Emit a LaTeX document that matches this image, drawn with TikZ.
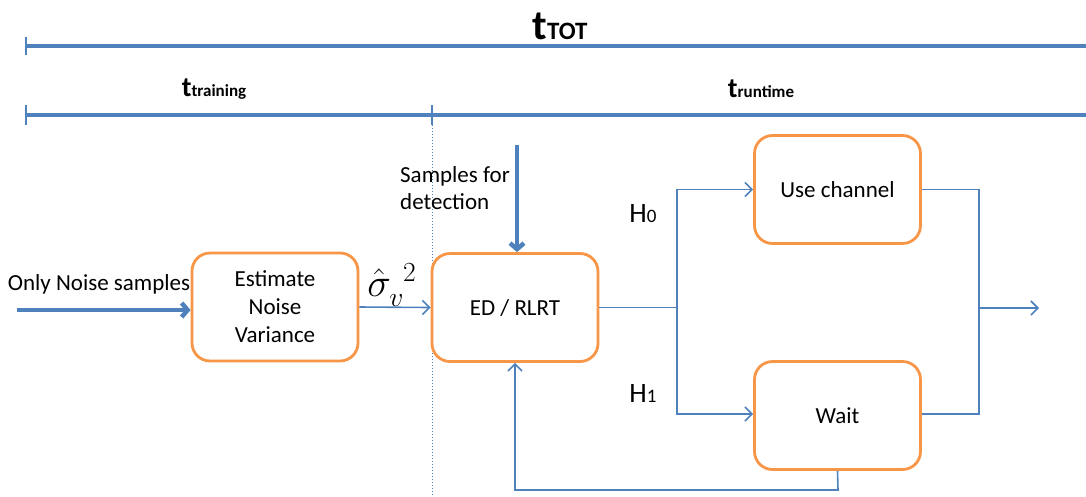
\documentclass[tikz,border=0pt]{standalone}
\usepackage{graphicx}
\usepackage{fontspec}
\setmainfont{Carlito}
\usetikzlibrary{arrows.meta}
\definecolor{lblue}{HTML}{4F81BD}
\definecolor{lorange}{HTML}{F79646}
\tikzset{
  box/.style={draw=lorange, line width=2.8pt, rounded corners=18pt, fill=white, minimum width=166pt, minimum height=108pt, align=center, font=\fontsize{23}{27}\selectfont},
  thin/.style={draw=lblue, line width=1.6pt},
  thinarr/.style={thin, -{Straight Barb[length=7pt,width=14pt,line width=1.6pt]}},
  thick/.style={draw=lblue, line width=4.5pt, -{Straight Barb[length=6pt,width=14pt,line width=4.5pt]}},
  tline/.style={draw=lblue, line width=4.5pt},
  tick/.style={draw=lblue, line width=2.2pt},
  lbl/.style={font=\fontsize{23}{27}\selectfont, inner sep=0pt}
}
\begin{document}
\begin{tikzpicture}[x=1pt,y=-1pt]
\useasboundingbox (0,0) rectangle (1086,496);
% timelines
\coordinate (a1) at (26,46); \coordinate (a2) at (1090,46);
\draw[tline] (a1) -- (a2);
\coordinate (a1t) at (26,37); \coordinate (a1b) at (26,55);
\draw[tick] (a1t) -- (a1b);
\node[inner sep=0pt] (ttot) at (560,26) {\bfseries\fontsize{42}{42}\selectfont t\fontsize{25}{25}\selectfont TOT};
\coordinate (b1) at (26,115); \coordinate (b2) at (1090,115);
\draw[tline] (b1) -- (b2);
\coordinate (b1t) at (26,105); \coordinate (b1b) at (26,125);
\draw[tick] (b1t) -- (b1b);
\coordinate (b3t) at (432,105); \coordinate (b3b) at (432,125);
\draw[tick] (b3t) -- (b3b);
\node[inner sep=0pt] (ttr) at (214,89) {\bfseries\fontsize{28}{28}\selectfont t\fontsize{17}{17}\selectfont training};
\node[inner sep=0pt] (trun) at (761,89) {\bfseries\fontsize{28}{28}\selectfont t\fontsize{17}{17}\selectfont runtime};
% dotted separator
\coordinate (d1) at (432,125); \coordinate (d2) at (432,496);
\draw[lblue, line width=1pt, dotted] (d1) -- (d2);
% boxes
\node[box] (est) at (275,307) {Estimate\\[1pt]Noise\\[1pt]Variance};
\node[box] (ed) at (515,307.5) {ED / RLRT};
\node[box] (use) at (837.5,189.5) {Use channel};
\node[box] (wait) at (837.5,415.5) {Wait};
% inputs
\node[lbl] (onl) at (99,284) {Only Noise samples};
\coordinate (in1) at (17,310);
\draw[thick] (in1) -- (in1 -| est.west);
\node[inner sep=0pt] (sig) at (392,285) {\scalebox{1.6}{\fontsize{24}{24}\selectfont$\hat{\sigma}_{v}^{\;\,2}$}};
\draw[thinarr] (est.east) -- (ed.west);
\node[lbl, align=left] (sfd) at (455,188) {Samples for\\detection};
\coordinate (in2) at (517,145);
\draw[thick] (in2) -- (in2 |- ed.north);
% branching
\coordinate (sp) at (677,307.5);
\coordinate (sp0) at (677,189.5);
\coordinate (sp1) at (677,414);
\draw[thin] (ed.east) -- (sp);
\draw[thinarr] (sp) -- (sp0) -- (use.west);
\draw[thinarr] (sp) -- (sp1) -- (sp1 -| wait.west);
\node[inner sep=0pt] (h0) at (643,214) {\fontsize{28}{28}\selectfont H\fontsize{19}{19}\selectfont 0};
\node[inner sep=0pt] (h1) at (643,394) {\fontsize{28}{28}\selectfont H\fontsize{19}{19}\selectfont 1};
% merging
\coordinate (m0) at (979,189.5);
\coordinate (m1) at (979,414);
\coordinate (mo) at (979,308);
\coordinate (out) at (1039,308);
\draw[thin] (use.east) -- (m0) -- (m1) -- (m1 -| wait.east);
\draw[thinarr] (mo) -- (out);
% feedback
\coordinate (f1) at (838,490);
\coordinate (f2) at (515,490);
\draw[thinarr] (wait.south) -- (f1) -- (f2) -- (ed.south);
\end{tikzpicture}
\end{document}
